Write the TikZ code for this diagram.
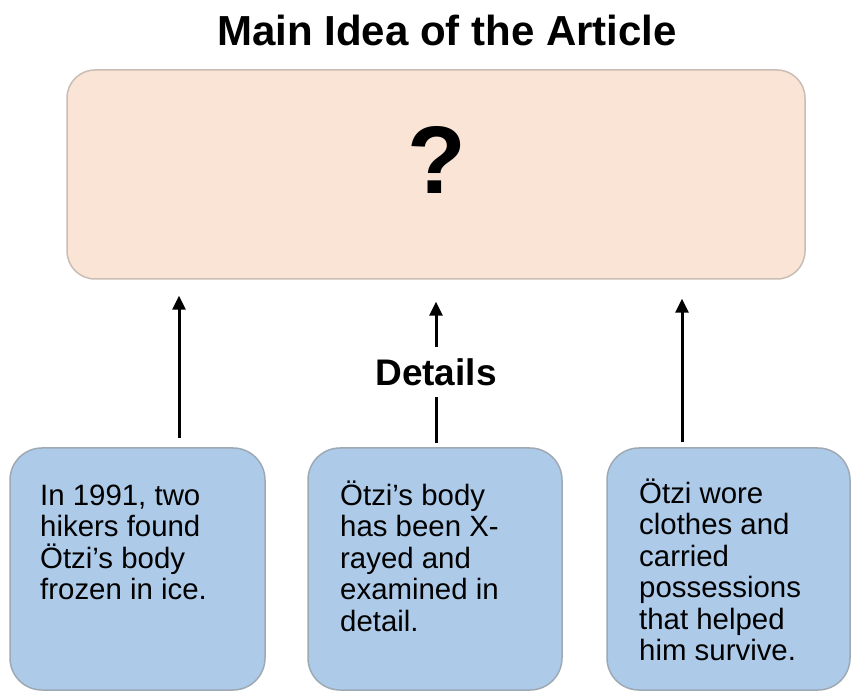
\documentclass[tikz,border=0pt]{standalone}
\usepackage{fontspec}
\setmainfont{Liberation Sans}
\usetikzlibrary{arrows.meta,calc}
\definecolor{topfill}{HTML}{FAE4D6}
\definecolor{topline}{HTML}{C9BDB5}
\definecolor{boxfill}{HTML}{ADCBE9}
\definecolor{boxline}{HTML}{9EA9B4}
\tikzset{
  mainbox/.style={draw=topline, fill=topfill, line width=1.5pt, rounded corners=28pt, inner sep=0pt,
    minimum width=738pt, minimum height=209pt},
  detailbox/.style={draw=boxline, fill=boxfill, line width=1.5pt, rounded corners=32pt, inner sep=0pt,
    minimum height=242pt},
  bodytext/.style={anchor=north west, inner sep=0pt, align=left, font=\fontsize{29.4}{31.5}\selectfont},
  arr/.style={line width=3pt, -{Triangle[width=13pt,length=14pt]}},
  plain/.style={line width=3pt}
}
\begin{document}
\begin{tikzpicture}[x=1pt,y=1pt]
\useasboundingbox (0,0) rectangle (851,691);
\fill[white] (0,0) rectangle (851,691);
% title
\node[inner sep=0pt, font=\fontsize{42}{48}\selectfont\bfseries] (title) at (447,661) {Main Idea of the Article};
% main idea box
\node[mainbox] (top) at (436,516.5) {};
\node[inner sep=0pt, font=\fontsize{96}{110}\selectfont\bfseries] (q) at (437,531) {?};
% detail boxes
\node[detailbox, minimum width=255pt] (b1) at (137.5,122) {};
\node[detailbox, minimum width=254pt] (b2) at (435,122) {};
\node[detailbox, minimum width=243pt] (b3) at (728.5,122) {};
\node[bodytext] (t1) at (40,216) {\rule{0pt}{30pt}In 1991, two\\hikers found\\Ötzi’s body\\frozen in ice.};
\node[bodytext] (t2) at (340,216) {\rule{0pt}{30pt}Ötzi’s body\\has been X-\\rayed and\\examined in\\detail.};
\node[bodytext] (t3) at (639,218) {\rule{0pt}{30pt}Ötzi wore\\clothes and\\carried\\possessions\\that helped\\him survive.};
% details label
\node[inner xsep=4pt, inner ysep=11.5pt, font=\fontsize{37}{44}\selectfont\bfseries] (det) at (436,319) {Details};
% connectors
\coordinate (x1) at (179,0);
\coordinate (x3) at (682,0);
\draw[arr, shorten <=9pt, shorten >=16pt] (b1.north -| x1) -- (top.south -| x1);
\draw[plain, shorten <=4pt] (b2.north -| det.south) -- (det.south);
\draw[arr, shorten >=22pt] (det.north) -- (top.south -| det.north);
\draw[arr, shorten <=5pt, shorten >=19pt] (b3.north -| x3) -- (top.south -| x3);
\end{tikzpicture}
\end{document}
